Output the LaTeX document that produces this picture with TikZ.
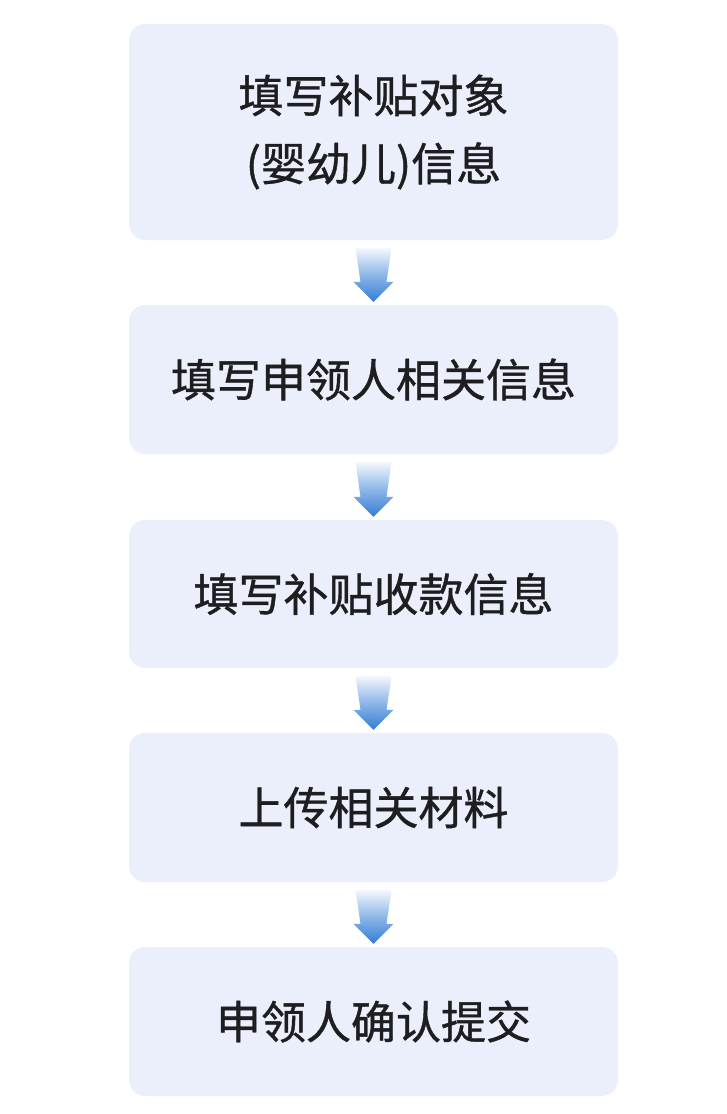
\documentclass[tikz,border=0pt]{standalone}
\usepackage{fontspec}
\newfontfamily\cjk[FakeBold=0.9]{Noto Sans CJK SC}
\usetikzlibrary{calc}
\definecolor{boxfill}{RGB}{235,239,252}
\definecolor{textcol}{RGB}{30,30,32}
\definecolor{arrtop}{RGB}{244,247,253}
\definecolor{arrbot}{RGB}{52,124,212}
\newcommand{\flowarrow}[2]{%
  \shade[top color=arrtop, bottom color=arrbot, middle color={rgb,255:red,140;green,182;blue,232}]
    let \p1=($(#1.south)+(0,8)$), \p2=($(#2.north)+(0,-3)$) in
    (\x1-18pt,\y1) -- (\x1+18pt,\y1) -- (\x1+13pt,\y2+20pt) -- (\x1+20pt,\y2+20pt)
    -- (\x1,\y2) -- (\x1-20pt,\y2+20pt) -- (\x1-13pt,\y2+20pt) -- cycle;}
\begin{document}
\begin{tikzpicture}[x=1pt,y=-1pt,
  stepbox/.style={rounded corners=16pt, fill=boxfill, minimum width=489pt,
    text=textcol, font=\cjk\fontsize{45}{68}\selectfont, align=center, inner sep=0pt}]
\useasboundingbox[fill=white] (0,0) rectangle (726,1114);
\node[stepbox, minimum height=216pt] (b1) at (373.5,132) {填写补贴对象\\(婴幼儿)信息};
\node[stepbox, minimum height=149pt] (b2) at (373.5,379.5) {填写申领人相关信息};
\node[stepbox, minimum height=148pt] (b3) at (373.5,594) {填写补贴收款信息};
\node[stepbox, minimum height=149pt] (b4) at (373.5,807.5) {上传相关材料};
\node[stepbox, minimum height=149pt] (b5) at (373.5,1021.5) {申领人确认提交};
\flowarrow{b1}{b2}
\flowarrow{b2}{b3}
\flowarrow{b3}{b4}
\flowarrow{b4}{b5}
\end{tikzpicture}
\end{document}
